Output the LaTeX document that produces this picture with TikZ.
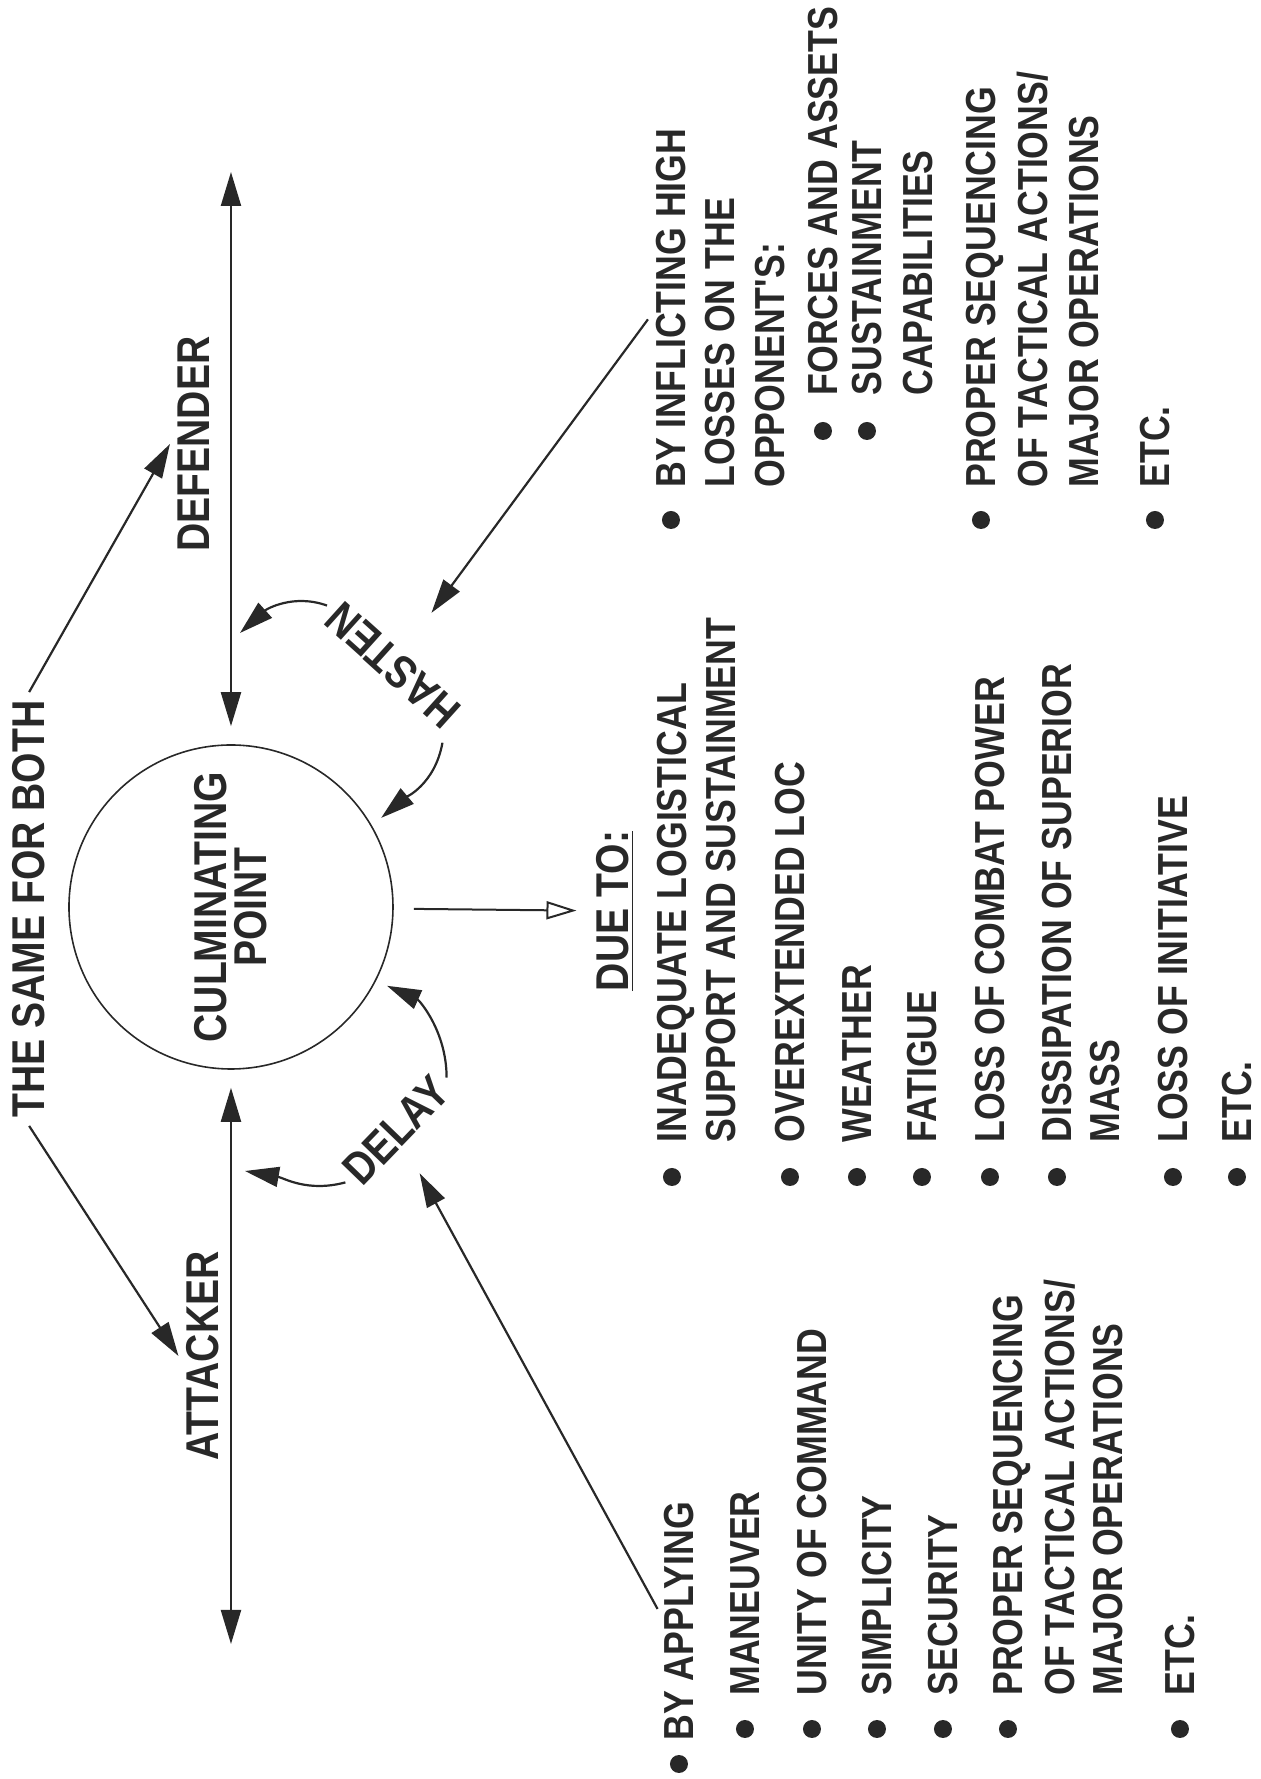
\documentclass[tikz,border=0pt]{standalone}
\usepackage{fontspec}
\newfontfamily\armyfont[FakeStretch=0.85]{Liberation Sans}
\usetikzlibrary{arrows.meta}

\tikzset{
  lbl/.style={font=\armyfont\bfseries\fontsize{23}{20}\selectfont, text=ink, inner sep=4pt},
  itm/.style={font=\armyfont\bfseries\fontsize{21}{24}\selectfont, text=ink, inner sep=0pt, anchor=base west},
  arr/.style={draw=ink, line width=1.1pt, -{Triangle[length=17pt,width=10pt]}},
  dbl/.style={draw=ink, line width=1.1pt, {Triangle[length=17pt,width=10pt]}-{Triangle[length=17pt,width=10pt]}},
}

\begin{document}
\begin{tikzpicture}[x=0.5pt, y=0.5pt, rotate=90, transform shape]
  % Define colors
  \definecolor{ink}{RGB}{40,40,40}

  \useasboundingbox (0,0) rectangle (1779,1260);

  % Culminating point
  \node[lbl, draw=ink, line width=0.8pt, circle, minimum size=162pt, inner sep=0pt, align=center] (cp) at (872,1029) {CULMINATING\\POINT};

  % Attacker and defender lines
  \coordinate (defend) at (1607,1029);
  \coordinate (attend) at (135,1029);
  \draw[dbl, shorten <=9pt] (cp) -- (defend);
  \draw[dbl, shorten <=9pt] (cp) -- (attend);
  \node[lbl, anchor=base] (def) at (1335,1050) {DEFENDER};
  \node[lbl, anchor=base] (att) at (423,1041) {ATTACKER};

  % Same for both
  \node[lbl, anchor=base] (same) at (870,1215) {THE SAME FOR BOTH};
  \draw[arr] (same.east) -- (def.north);
  \draw[arr] (same.west) -- (att.north);

  % Hasten and delay
  \node[lbl, rotate=48] (hst) at (1114,867) {HASTEN};
  \node[lbl, rotate=-44] (dly) at (649,864) {DELAY};
  \coordinate (hsttip) at (1146,1020);
  \coordinate (dlytip) at (608,1015);
  \draw[arr] (hst.east) to[out=70,in=-48] (hsttip);
  \draw[arr, shorten >=6pt] (hst.north west) to[out=170,in=-50] (cp.-60);
  \draw[arr] (dly.west) to[out=105,in=-100] (dlytip);
  \draw[arr, shorten >=6pt] (dly.east) to[out=0,in=-114] (cp.-117);

  % Due to
  \node[lbl, anchor=base] (due) at (868,631) {\underline{DUE TO:}};
  \draw[draw=ink, line width=1pt, -{Triangle[open,length=15pt,width=9pt]}, shorten <=10pt, shorten >=6pt] (cp) -- (due);

  % By applying
  \node[itm] (apply) at (38,566) {BY APPLYING};
  \foreach \y/\txt in {500/MANEUVER, 433/UNITY OF COMMAND, 368/SIMPLICITY, 302/SECURITY,
      237/PROPER SEQUENCING, 185/OF TACTICAL ACTIONS\slash, 137/MAJOR OPERATIONS, 65/ETC.}
    \node[itm] (apply-\y) at (83,\y) {\txt};
  \fill[ink] (15,581) circle (4.5pt);
  \foreach \y in {500,433,368,302,237,65}
    \fill[ink] (50,\y+15) circle (4.5pt);
  \draw[arr, shorten <=7pt, shorten >=12pt] (apply.north) -- (dly);

  % Due to list
  \foreach \y/\txt in {573/INADEQUATE LOGISTICAL, 524/SUPPORT AND SUSTAINMENT, 455/OVEREXTENDED LOC,
      388/WEATHER, 323/FATIGUE, 255/LOSS OF COMBAT POWER, 188/DISSIPATION OF SUPERIOR, 140/MASS,
      72/LOSS OF INITIATIVE, 8/ETC.}
    \node[itm] (cause-\y) at (636,\y) {\txt};
  \foreach \y in {573,455,388,323,255,188,72,8}
    \fill[ink] (602,\y+15) circle (4.5pt);

  % By inflicting
  \node[itm] (inflict) at (1291,574) {BY INFLICTING HIGH};
  \foreach \y/\txt in {525/LOSSES ON THE, 475/OPPONENT'S:, 264/PROPER SEQUENCING,
      212/OF TACTICAL ACTIONS\slash, 161/MAJOR OPERATIONS, 90/ETC.}
    \node[itm] (inflict-\y) at (1291,\y) {\txt};
  \foreach \y/\txt in {422/FORCES AND ASSETS, 378/SUSTAINMENT, 327/CAPABILITIES}
    \node[itm] (opp-\y) at (1383,\y) {\txt};
  \foreach \y in {574,264,90}
    \fill[ink] (1259,\y+15) circle (4.5pt);
  \foreach \y in {422,378}
    \fill[ink] (1348,\y+15) circle (4.5pt);
  \draw[arr, shorten <=7pt, shorten >=20pt] (inflict.north) -- (hst);
\end{tikzpicture}
\end{document}
